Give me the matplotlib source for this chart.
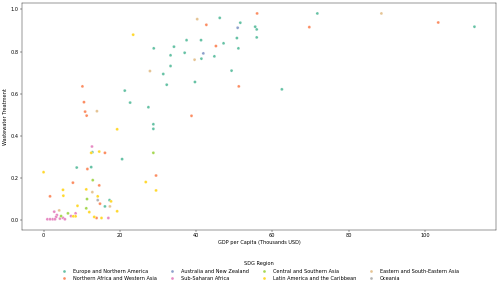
import matplotlib
matplotlib.use('Agg')
import matplotlib.pyplot as plt
import seaborn as sns
import pandas as pd

# values
regions = ['Europe and Northern America', 'Northern Africa and Western Asia',
           'Australia and New Zealand', 'Sub-Saharan Africa',
           'Central and Southern Asia', 'Latin America and the Caribbean',
           'Eastern and South-Eastern Asia', 'Oceania']

eur_gdp = [46.2, 51.6, 37.5, 41.3, 34.2, 28.9, 47.2, 50.7, 51.1, 33.3, 37.0, 41.4,
           44.8, 33.3, 31.4, 49.3, 32.3, 39.7, 21.3, 22.7, 27.5, 28.8, 28.8, 12.8,
           20.6, 8.7, 12.5, 17.3, 16.1, 55.5, 55.9, 55.9, 62.5, 71.8, 113.0]
eur_wwt = [0.960, 0.937, 0.854, 0.854, 0.823, 0.815, 0.839, 0.864, 0.815, 0.782, 0.794, 0.766,
           0.777, 0.731, 0.693, 0.709, 0.642, 0.655, 0.614, 0.557, 0.535, 0.454, 0.432, 0.321,
           0.288, 0.248, 0.250, 0.093, 0.063, 0.918, 0.905, 0.867, 0.620, 0.981, 0.918]

naf_gdp = [42.7, 45.2, 51.2, 10.2, 10.6, 10.9, 11.3, 38.8, 16.1, 29.5, 11.5, 7.7,
           14.6, 1.7, 14.8, 13.9, 56.0, 69.7, 103.5]
naf_wwt = [0.927, 0.826, 0.634, 0.634, 0.559, 0.514, 0.495, 0.494, 0.318, 0.210, 0.241, 0.176,
           0.163, 0.111, 0.076, 0.008, 0.981, 0.916, 0.938]

anz_gdp = [50.9, 41.9]
anz_wwt = [0.913, 0.791]

ssa_gdp = [12.7, 17.0, 2.8, 8.4, 7.2, 3.5, 4.3, 3.3, 5.1, 5.6, 1.0, 1.7, 2.4, 3.0]
ssa_wwt = [0.348, 0.008, 0.038, 0.030, 0.017, 0.022, 0.005, 0.013, 0.009, 0.002, 0.002, 0.002, 0.002, 0.002]

csa_gdp = [28.8, 12.9, 11.4, 11.2, 6.4, 4.6]
csa_wwt = [0.318, 0.188, 0.098, 0.054, 0.030, 0.017]

lac_gdp = [23.5, 19.3, 12.5, 14.6, 0.0, 26.8, 5.1, 5.2, 11.2, 29.5, 14.2, 17.7,
           8.9, 12.0, 19.3, 13.3, 15.2, 7.8, 8.4]
lac_wwt = [0.880, 0.430, 0.318, 0.324, 0.226, 0.179, 0.142, 0.114, 0.144, 0.139, 0.111, 0.087,
           0.066, 0.036, 0.040, 0.013, 0.008, 0.016, 0.016]

esa_gdp = [40.3, 39.6, 27.9, 14.0, 12.8, 17.4, 4.1, 88.6]
esa_wwt = [0.954, 0.761, 0.707, 0.516, 0.131, 0.063, 0.044, 0.981]

oce_gdp = [14.2]
oce_wwt = [0.093]

gdp_lists = [eur_gdp, naf_gdp, anz_gdp, ssa_gdp, csa_gdp, lac_gdp, esa_gdp, oce_gdp]
wwt_lists = [eur_wwt, naf_wwt, anz_wwt, ssa_wwt, csa_wwt, lac_wwt, esa_wwt, oce_wwt]

frames = []
for name, g, w in zip(regions, gdp_lists, wwt_lists):
    frames.append(pd.DataFrame({'gdp': g, 'wwt': w, 'SDG Region': name}))
df = pd.concat(frames, ignore_index=True)

dpi = 500 / 14
fig = plt.figure(figsize=(14, 288 / dpi), dpi=dpi)
ax = fig.add_axes([0.044, 0.203, 0.948, 0.786])
sns.scatterplot(data=df, x='gdp', y='wwt', hue='SDG Region', hue_order=regions,
                palette='Set2', ax=ax)
ax.set_xlabel('GDP per Capita (Thousands USD)')
ax.set_ylabel('Wastewater Treatment')
sns.move_legend(ax, 'upper center', bbox_to_anchor=(0.5, -0.12), ncol=4,
                frameon=False, title='SDG Region')

fig.savefig('out.png', dpi=dpi)
